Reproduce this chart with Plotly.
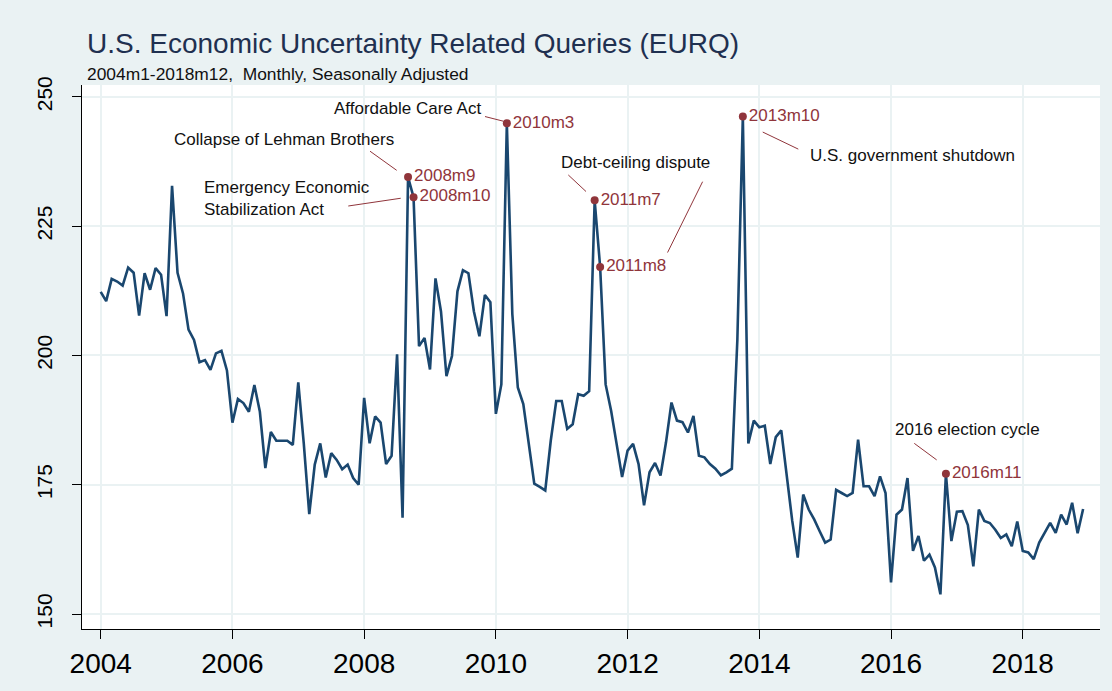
import plotly.graph_objects as go

# monthly EURQ values, seasonally adjusted
eurq_2004 = [212.3, 210.5, 214.8, 214.3, 213.5, 217.0, 216.0, 207.7, 215.9, 212.7, 216.9, 215.6]
eurq_2005 = [207.6, 232.8, 216.0, 212.0, 205.0, 203.0, 198.7, 199.1, 197.2, 200.4, 200.9, 197.1]
eurq_2006 = [187.0, 191.6, 190.8, 189.1, 194.3, 189.1, 178.2, 185.2, 183.5, 183.5, 183.5, 182.7]
eurq_2007 = [194.8, 183.0, 169.3, 178.9, 183.0, 176.4, 181.1, 179.8, 178.0, 178.9, 176.3, 175.0]
eurq_2008 = [191.8, 183.0, 188.2, 187.0, 179.0, 180.6, 200.2, 168.6, 234.5, 230.6, 201.8, 203.4]
eurq_2009 = [197.3, 214.9, 208.5, 196.0, 199.9, 212.4, 216.5, 215.9, 208.5, 203.7, 211.7, 210.3]
eurq_2010 = [188.7, 194.4, 244.9, 208.0, 193.8, 190.6, 182.9, 175.2, 174.6, 173.9, 183.5, 191.2]
eurq_2011 = [191.2, 185.8, 186.7, 192.5, 192.2, 193.1, 230.0, 217.1, 194.4, 189.3, 182.9, 176.5]
eurq_2012 = [181.6, 182.9, 179.0, 171.0, 177.4, 179.2, 176.8, 183.2, 190.9, 187.4, 187.1, 185.1]
eurq_2013 = [188.3, 180.6, 180.3, 179.0, 178.1, 176.8, 177.4, 178.1, 203.0, 246.2, 183.0, 187.4]
eurq_2014 = [186.1, 186.4, 179.0, 184.2, 185.5, 176.2, 168.0, 160.9, 173.1, 170.2, 168.3, 166.0]
eurq_2015 = [163.8, 164.4, 174.0, 173.4, 172.8, 173.4, 183.7, 174.7, 174.7, 172.8, 176.6, 173.4]
eurq_2016 = [156.1, 169.2, 170.2, 176.3, 162.2, 165.1, 160.3, 161.5, 159.0, 153.8, 177.1, 164.1]
eurq_2017 = [169.8, 169.9, 167.2, 159.2, 170.2, 168.0, 167.6, 166.3, 164.7, 165.4, 163.1, 167.9]
eurq_2018 = [162.2, 161.9, 160.6, 163.8, 165.7, 167.6, 165.7, 169.2, 167.3, 171.5, 165.6, 170.3]

years = list(range(2004, 2019))
x_ticks = [2004, 2006, 2008, 2010, 2012, 2014, 2016, 2018]
y_ticks = [150, 175, 200, 225, 250]

# highlighted months
event_months = ['2008m9', '2008m10', '2010m3', '2011m7', '2011m8', '2013m10', '2016m11']

NAVY = '#1a476f'
CRANBERRY = '#90353b'
BG = '#eaf2f3'
FONT = 'Liberation Sans, Arial, sans-serif'


def month_to_x(label):
    '''turn a Stata style month like 2008m9 into a decimal year'''
    y, m = label.split('m')
    return int(y) + (int(m) - 1) / 12


def main():

    series = [eurq_2004, eurq_2005, eurq_2006, eurq_2007, eurq_2008,
              eurq_2009, eurq_2010, eurq_2011, eurq_2012, eurq_2013,
              eurq_2014, eurq_2015, eurq_2016, eurq_2017, eurq_2018]

    x, y = [], []
    for yr, vals in zip(years, series):
        for i, v in enumerate(vals):
            x.append(yr + i / 12)
            y.append(v)

    # event points take their value from the series
    ev_x = [month_to_x(e) for e in event_months]
    ev_y = [y[round((ex - 2004) * 12)] for ex in ev_x]

    fig = go.Figure()

    fig.add_trace(go.Scatter(x=x, y=y, mode='lines',
                             line=dict(color=NAVY, width=2.6),
                             showlegend=False))

    fig.add_trace(go.Scatter(x=ev_x, y=ev_y, mode='markers+text',
                             marker=dict(color=CRANBERRY, size=8),
                             text=event_months, textposition='middle right',
                             textfont=dict(family=FONT, size=17, color=CRANBERRY),
                             showlegend=False))

    # black notes next to the events
    notes = [
        ('Collapse of Lehman Brothers', 2005.078, 241.8),
        ('Emergency Economic<br>Stabilization Act', 2005.534, 230.3),
        ('Affordable Care Act', 2007.507, 247.7),
        ('Debt-ceiling dispute', 2010.963, 237.3),
        ('U.S. government shutdown', 2014.739, 238.7),
        ('2016 election cycle', 2016.025, 185.7),
    ]
    for txt, nx, ny in notes:
        fig.add_annotation(x=nx, y=ny, text=txt, showarrow=False,
                           xanchor='left', yanchor='middle', align='left',
                           font=dict(family=FONT, size=17, color='#111111'))

    # thin connector lines between notes and points
    links = [
        (2008.089, 239.5, 2008.494, 235.8),
        (2007.759, 228.9, 2008.555, 230.4),
        (2009.835, 246.2, 2010.113, 245.3),
        (2011.100, 234.9, 2011.369, 231.7),
        (2013.139, 233.6, 2012.607, 219.9),
        (2014.052, 243.2, 2014.592, 239.9),
        (2016.353, 183.0, 2016.693, 179.8),
    ]
    for x0, y0, x1, y1 in links:
        fig.add_shape(type='line', x0=x0, y0=y0, x1=x1, y1=y1,
                      xref='x', yref='y', line=dict(color=CRANBERRY, width=1))

    # title and subtitle
    fig.add_annotation(x=0.003, y=1.0765, xref='paper', yref='paper',
                       text='U.S. Economic Uncertainty Related Queries (EURQ)',
                       showarrow=False, xanchor='left', yanchor='middle',
                       font=dict(family=FONT, size=28, color='#1f3050'))
    fig.add_annotation(x=0.003, y=1.021, xref='paper', yref='paper',
                       text='2004m1-2018m12,&nbsp;&nbsp;Monthly, Seasonally Adjusted',
                       showarrow=False, xanchor='left', yanchor='middle',
                       font=dict(family=FONT, size=17.4, color='#111111'))

    fig.update_layout(width=1112, height=691,
                      margin=dict(l=82, r=12, t=85, b=57),
                      paper_bgcolor=BG, plot_bgcolor='white',
                      font=dict(family=FONT, color='#111111'))

    fig.update_xaxes(range=[2003.716, 2019.173], tickvals=x_ticks,
                     ticktext=[str(t) for t in x_ticks],
                     showgrid=True, gridcolor=BG, gridwidth=2,
                     showline=True, linecolor='black', linewidth=1,
                     ticks='outside', ticklen=9, tickcolor='black',
                     tickfont=dict(family=FONT, size=28, color='black'),
                     zeroline=False)

    fig.update_yaxes(range=[147.1, 252.3], tickvals=y_ticks,
                     showgrid=True, gridcolor=BG, gridwidth=2,
                     showline=True, linecolor='black', linewidth=1,
                     ticks='outside', ticklen=9, tickcolor='black',
                     tickangle=-90, ticklabelstandoff=12,
                     tickfont=dict(family=FONT, size=21, color='black'),
                     zeroline=False)

    # drop the default page margin so the figure sits at the window corner
    fig.write_html('out.html', config={'displayModeBar': False},
                   post_script="document.body.style.margin='0px';")


if __name__ == '__main__':
    main()
